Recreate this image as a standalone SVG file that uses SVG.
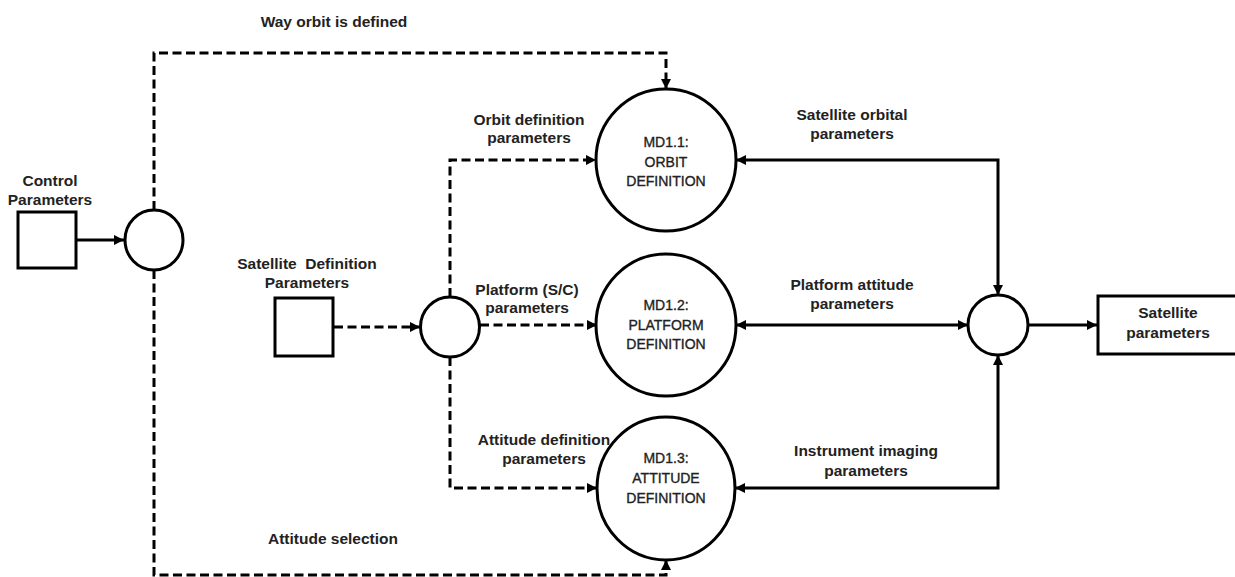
<svg xmlns="http://www.w3.org/2000/svg" width="1235" height="577" viewBox="0 0 1235 577">
  <style>
    .shape { fill: #fff; stroke: #000; stroke-width: 3; }
    .flow { fill: none; stroke: #000; stroke-width: 3; }
    .dash { stroke-dasharray: 9 4.5; }
    .lbl { font-family: "Liberation Sans", Arial, sans-serif; font-size: 15.5px; font-weight: bold; fill: #222; text-anchor: middle; }
    .node { font-family: "Liberation Sans", Arial, sans-serif; font-size: 14px; fill: #222; stroke: #222; stroke-width: 0.35; text-anchor: middle; }
  </style>
  <defs>
    <marker id="arrow" viewBox="0 0 10 10" refX="10" refY="5" markerWidth="10" markerHeight="10" markerUnits="userSpaceOnUse" orient="auto-start-reverse">
      <path d="M0,0 L10,5 L0,10 z" fill="#000"/>
    </marker>
  </defs>

  <rect width="1235" height="577" fill="#fff"/>

  <!-- connectors -->
  <g id="connectors">
    <path class="flow" d="M77,240 H124" marker-end="url(#arrow)"/>
    <path class="flow dash" d="M154,210 V53 H666 V89" marker-end="url(#arrow)"/>
    <path class="flow dash" d="M154,270 V575 H666 V560" marker-end="url(#arrow)"/>
    <path class="flow dash" d="M334,327 H420" marker-end="url(#arrow)"/>
    <path class="flow dash" d="M450,297 V160 H596" marker-end="url(#arrow)"/>
    <path class="flow dash" d="M480,325 H597" marker-end="url(#arrow)"/>
    <path class="flow dash" d="M450,357 V488 H597" marker-end="url(#arrow)"/>
    <path class="flow" d="M736,160 H998 V295" marker-start="url(#arrow)" marker-end="url(#arrow)"/>
    <path class="flow" d="M736,325 H968" marker-start="url(#arrow)" marker-end="url(#arrow)"/>
    <path class="flow" d="M735,488 H998 V355" marker-start="url(#arrow)" marker-end="url(#arrow)"/>
    <path class="flow" d="M1028,325 H1097" marker-end="url(#arrow)"/>

    <text class="lbl" x="334" y="27">Way orbit is defined</text>
    <text class="lbl" x="529" y="125">Orbit definition</text>
    <text class="lbl" x="529" y="143">parameters</text>
    <text class="lbl" x="527" y="295">Platform (S/C)</text>
    <text class="lbl" x="527" y="313">parameters</text>
    <text class="lbl" x="544" y="445">Attitude definition</text>
    <text class="lbl" x="544" y="464">parameters</text>
    <text class="lbl" x="333" y="544">Attitude selection</text>
    <text class="lbl" x="852" y="120">Satellite orbital</text>
    <text class="lbl" x="852" y="139">parameters</text>
    <text class="lbl" x="852" y="290">Platform attitude</text>
    <text class="lbl" x="852" y="309">parameters</text>
    <text class="lbl" x="866" y="456">Instrument imaging</text>
    <text class="lbl" x="866" y="476">parameters</text>
  </g>

  <!-- external entity: control parameters -->
  <g id="control-parameters">
    <rect class="shape" x="18" y="212" width="58" height="56"/>
    <text class="lbl" x="50" y="186">Control</text>
    <text class="lbl" x="50" y="205">Parameters</text>
  </g>

  <!-- junction fed by control parameters -->
  <g id="control-junction">
    <ellipse class="shape" cx="154" cy="240" rx="29" ry="30"/>
  </g>

  <!-- external entity: satellite definition parameters -->
  <g id="satellite-definition">
    <rect class="shape" x="275" y="298" width="58" height="58"/>
    <text class="lbl" x="307" y="269" style="white-space: pre">Satellite  Definition</text>
    <text class="lbl" x="307" y="288">Parameters</text>
  </g>

  <!-- junction fed by satellite definition -->
  <g id="definition-junction">
    <ellipse class="shape" cx="450" cy="327" rx="29.5" ry="30"/>
  </g>

  <!-- processes -->
  <g id="md1-1">
    <ellipse class="shape" cx="666" cy="160" rx="70" ry="71"/>
    <text class="node" x="666" y="147">MD1.1:</text>
    <text class="node" x="666" y="167">ORBIT</text>
    <text class="node" x="666" y="186">DEFINITION</text>
  </g>

  <g id="md1-2">
    <ellipse class="shape" cx="666" cy="325" rx="70" ry="71"/>
    <text class="node" x="666" y="310">MD1.2:</text>
    <text class="node" x="666" y="330">PLATFORM</text>
    <text class="node" x="666" y="349">DEFINITION</text>
  </g>

  <g id="md1-3">
    <ellipse class="shape" cx="666" cy="488.5" rx="69" ry="71.5"/>
    <text class="node" x="666" y="463">MD1.3:</text>
    <text class="node" x="666" y="483">ATTITUDE</text>
    <text class="node" x="666" y="503">DEFINITION</text>
  </g>

  <!-- merge junction -->
  <g id="merge-junction">
    <ellipse class="shape" cx="998" cy="325" rx="30" ry="30"/>
  </g>

  <!-- output entity -->
  <g id="satellite-parameters">
    <rect class="shape" x="1098" y="296" width="145" height="58"/>
    <text class="lbl" x="1168" y="318">Satellite</text>
    <text class="lbl" x="1168" y="338">parameters</text>
  </g>
</svg>
